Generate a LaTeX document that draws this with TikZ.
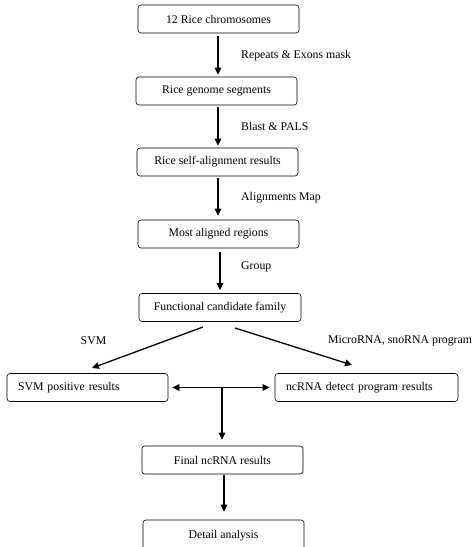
\documentclass[tikz,border=0pt]{standalone}
\usepackage{fontspec}
\setmainfont{Liberation Serif}
\usetikzlibrary{arrows.meta}
\begin{document}
\begin{tikzpicture}[x=1pt,y=-1pt,
  box/.style={draw, rounded corners=3pt, line width=0.6pt, minimum height=28pt, inner sep=0pt,
    font=\fontsize{11.8}{14}\selectfont},
  arr/.style={line width=1.3pt, -{Triangle[length=7pt,width=6.5pt]}},
  darr/.style={line width=1.3pt, {Triangle[length=7pt,width=6.5pt]}-{Triangle[length=7pt,width=6.5pt]}},
  lbl/.style={anchor=west, inner sep=0pt, font=\fontsize{11.8}{14}\selectfont}]
\useasboundingbox (0,0) rectangle (475,547);
\node[box, minimum width=161pt] (b1) at (218.5,19) {12 Rice chromosomes};
\node[box, minimum width=161pt] (b2) at (216.5,91) {Rice genome segments};
\node[box, minimum width=161pt] (b3) at (217.5,162) {Rice self-alignment results};
\node[box, minimum width=161pt] (b4) at (218.5,234) {Most aligned regions};
\node[box, minimum width=162pt] (b5) at (220,307.5) {Functional candidate family};
\node[box, minimum width=161pt, text width=139pt, align=left] (b6) at (87.5,387.5) {SVM positive results};
\node[box, minimum width=183pt, text width=161pt, align=left] (b7) at (366.5,387.5) {ncRNA detect program results};
\node[box, minimum width=161pt] (b8) at (222.5,460) {Final ncRNA results};
\node[box, minimum width=161pt, minimum height=34pt, text depth=6pt] (b9) at (223.5,537) {Detail analysis};

\draw[arr, shorten <=3pt, shorten >=2pt] (b1.south -| 218,0) -- (b2.north -| 218,0);
\draw[arr, shorten <=2pt, shorten >=2pt] (b2.south -| 218,0) -- (b3.north -| 218,0);
\draw[arr, shorten <=2pt, shorten >=4pt] (b3.south -| 218,0) -- (b4.north -| 218,0);
\draw[arr, shorten <=4pt, shorten >=3pt] (b4.south -| 220,0) -- (b5.north -| 220,0);

\node[lbl] (l1) at (241,56) {Repeats \& Exons mask};
\node[lbl] (l2) at (241,126) {Blast \& PALS};
\node[lbl] (l3) at (241,198) {Alignments Map};
\node[lbl] (l4) at (241,267) {Group};
\node[lbl, anchor=center] (l5) at (93.5,341) {SVM};
\node[lbl] (l6) at (328,341) {MicroRNA, snoRNA program};

\coordinate (sl) at (203,327);
\coordinate (tl) at (92,368);
\coordinate (sr) at (235,328);
\coordinate (tr) at (352,365);
\draw[arr] (sl) -- (tl);
\draw[arr] (sr) -- (tr);

\draw[darr, shorten <=4pt, shorten >=5pt] (b6.east) -- (b7.west);
\coordinate (j) at (222,387.5);
\draw[arr, shorten >=6pt] (j) -- (b8.north -| j);
\draw[arr, shorten <=1pt, shorten >=8pt] (b8.south -| 224,0) -- (b9.north -| 224,0);
\end{tikzpicture}
\end{document}
